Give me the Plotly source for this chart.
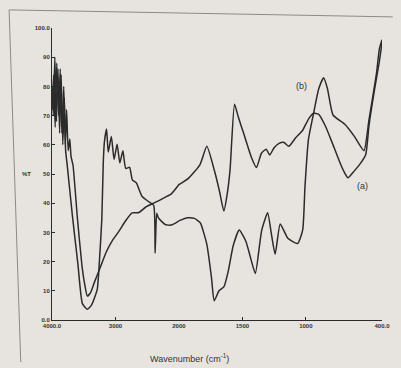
import plotly.graph_objects as go

# ---- data (wavenumber in cm-1, %T) ----
wn_a = [4000,3975,3950,3925,3895,3870,3845,3815,3790,3770,3745,3720,3700,3669,3600,3530,3487,3443,3390,3334,
        3240,3145,3040,2942,2840,2738,2631,2522,2420,2322,2220,2120,2020,1928,1835,1780,1720,1680,1646,1620,
        1597,1562,1532,1487,1427,1389,1350,1312,1285,1250,1211,1172,1134,1080,1025,978,939,900,848,795,
        735,698,668,621,567,528,502,462,421,400]
t_a = [72,84,66,88,70,86,64,80,60,72,58,62,56,53,35,19,12.5,8.2,9.5,12.8,
       18,23.3,27.5,30.5,34,36.7,36.8,38.7,39.8,40.8,42,43.2,45.8,48.4,53.1,59.5,51.1,44,37.3,43,
       51.5,73.9,69.5,63.5,55.5,52.2,57.1,58.5,56.5,59,60.5,60.8,59.5,62.4,65,68.9,70.8,70.5,66.6,61,
       54.3,50.7,48.7,50.9,53.8,56.7,66.7,78.1,88.5,95]

wn_b = [4000,3980,3955,3930,3905,3880,3855,3830,3805,3785,3761,3680,3592,3521,3445,3380,3288,3254,3215,3192,
        3174,3140,3114,3065,3022,2974,2931,2883,2838,2777,2734,2672,2582,2475,2398,2375,2350,2323,2217,2125,
        2017,1932,1878,1832,1780,1744,1722,1683,1645,1610,1572,1525,1472,1435,1398,1348,1301,1271,1242,1202,
        1142,1065,1025,1007,980,939,899,860,830,786,695,618,542,502,445,420,400]
t_b = [80,70,90,68,86,64,84,60,76,58,53.2,36,19.2,5.6,3.7,5,10.4,19.8,34.5,54,
       61,65.4,57.5,62.8,55,60.2,53.8,58,51.9,52.3,48,47,42.4,40.5,39.3,22.9,36.6,35,32.7,32.5,
       33.7,35,34.8,33.3,25.9,14.7,6.6,10.1,11.4,17,25.5,30.8,26.9,21.2,15.9,30.7,36.7,29.3,22.5,32.9,
       28,26.2,30.8,45.5,61.7,70.8,79.1,83,79.3,70.2,67.1,62.9,58,68.7,84,93,96]

x_ticks_hi = [4000, 3000]
x_labels_hi = ["4000.0", "3000"]
x_ticks_lo = [2000, 1500, 1000, 400]
x_labels_lo = ["2000", "1500", "1000", "400.0"]
y_ticks = [0, 10, 20, 30, 40, 50, 60, 70, 80, 90, 100]
y_labels = ["0.0", "10", "20", "30", "40", "50", "60", "70", "80", "90", "100.0"]

LINE = "#2b2b2b"
BG = "#e7e4e0"
TXT = "#333333"
FONT = "Liberation Sans, Arial"

def split(wn, t):
    hi = [i for i, w in enumerate(wn) if w >= 2000]
    lo = [i for i, w in enumerate(wn) if w <= 2000]
    hi_idx = hi + [max(hi) + 1]
    lo_idx = [min(lo) - 1] + lo
    return ([wn[i] for i in hi_idx], [t[i] for i in hi_idx],
            [wn[i] for i in lo_idx], [t[i] for i in lo_idx])

fig = go.Figure()
for wn, t in [(wn_a, t_a), (wn_b, t_b)]:
    xh, yh, xl, yl = split(wn, t)
    style = dict(color=LINE, width=1.5, shape="spline", smoothing=0.5)
    fig.add_trace(go.Scatter(x=xh, y=yh, mode="lines", xaxis="x", yaxis="y",
                             line=style, showlegend=False))
    fig.add_trace(go.Scatter(x=xl, y=yl, mode="lines", xaxis="x2", yaxis="y",
                             line=style, showlegend=False))

split_frac = 130 / 338
tickfont = dict(family=FONT, size=6, color=TXT, weight="bold")
axis_common = dict(showline=True, linecolor=LINE, linewidth=1, showgrid=False, zeroline=False,
                   ticks="inside", ticklen=3, tickcolor=LINE, tickfont=tickfont)
fig.update_layout(
    width=401, height=368,
    margin=dict(l=52, r=11, t=28, b=48),
    paper_bgcolor=BG, plot_bgcolor=BG,
    xaxis=dict(domain=[0, split_frac], range=[4000, 2000], tickvals=x_ticks_hi, ticktext=x_labels_hi,
               anchor="y", **axis_common),
    xaxis2=dict(domain=[split_frac, 1], range=[2000, 400], tickvals=x_ticks_lo, ticktext=x_labels_lo,
                anchor="y", **axis_common),
    yaxis=dict(range=[0, 100], tickvals=y_ticks, ticktext=y_labels, anchor="x", **axis_common),
    annotations=[
        dict(text="Wavenumber (cm<sup>-1</sup>)", xref="paper", yref="paper", x=0.417, y=-0.13,
             showarrow=False, font=dict(family=FONT, size=9, color=TXT),
             xanchor="center", yanchor="middle"),
        dict(text="%T", xref="paper", yref="paper", x=-0.077, y=0.5, showarrow=False,
             font=dict(family=FONT, size=6, color=TXT, weight="bold"), xanchor="center", yanchor="middle"),
        dict(text="(b)", xref="x2", yref="y", x=1031, y=80.3, showarrow=False,
             font=dict(family=FONT, size=9, color=TXT)),
        dict(text="(a)", xref="x2", yref="y", x=554, y=46, showarrow=False,
             font=dict(family=FONT, size=9, color=TXT)),
    ],
    shapes=[
        dict(type="line", xref="paper", yref="paper", x0=-0.130, y0=1.062, x1=-0.0947, y1=-0.144,
             line=dict(color="#8c8a88", width=1)),
        dict(type="line", xref="paper", yref="paper", x0=-0.130, y0=1.062, x1=1.0325, y1=1.038,
             line=dict(color="#8c8a88", width=1)),
    ],
)

fig.write_html("out.html")
